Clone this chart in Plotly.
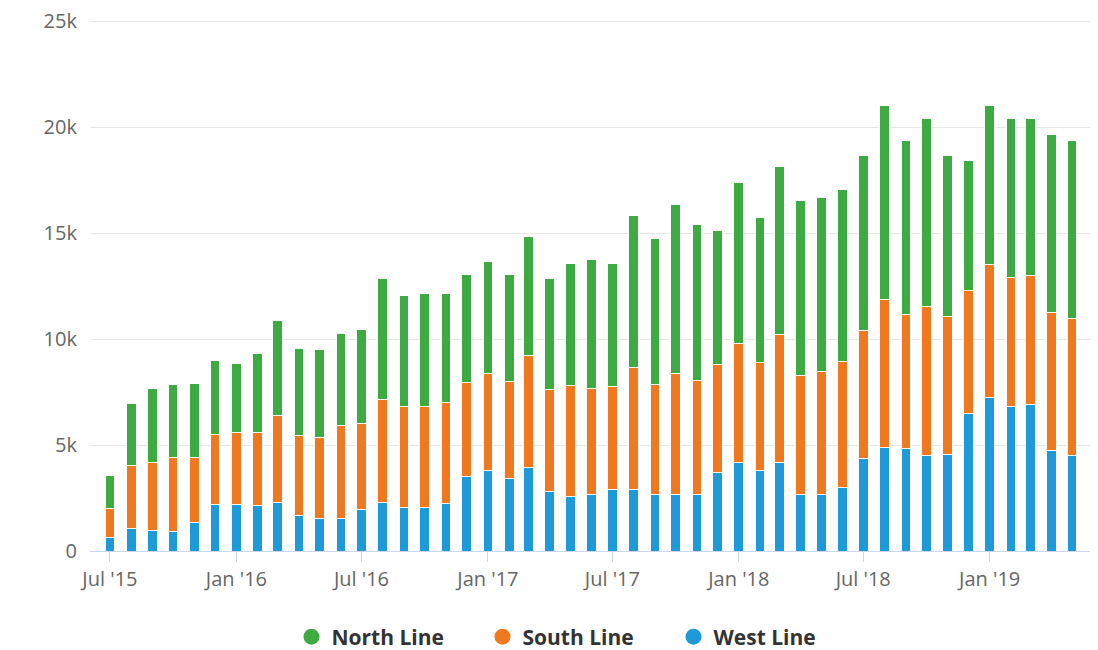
import pandas as pd
import plotly.graph_objects as go

# Monthly ridership by line, July 2015 - May 2019
months = pd.date_range("2015-07-01", "2019-05-01", freq="MS")

west_line = [630, 1080, 990, 920, 1350, 2200, 2200, 2130, 2270, 1690, 1530, 1530,
             1950, 2290, 2050, 2050, 2220, 3510, 3780, 3420, 3960, 2830, 2580, 2650,
             2920, 2920, 2650, 2650, 2650, 3690, 4200, 3780, 4200, 2650, 2650, 3010,
             4380, 4900, 4830, 4490, 4560, 6480, 7260, 6830, 6920, 4720, 4490]
south_line = [1390, 2970, 3210, 3480, 3040, 3310, 3380, 3460, 4120, 3750, 3820, 4410,
              4090, 4880, 4760, 4760, 4770, 4450, 4590, 4590, 5260, 4770, 5210, 5040,
              4860, 5750, 5220, 5740, 5400, 5130, 5580, 5130, 6020, 5640, 5840, 5910,
              6020, 6950, 6340, 7040, 6520, 5820, 6250, 6090, 6090, 6540, 6470]
north_line = [1550, 2920, 3460, 3440, 3530, 3460, 3280, 3710, 4480, 4140, 4140, 4320,
              4410, 5670, 5260, 5350, 5170, 5080, 5280, 5020, 5640, 5240, 5780, 6050,
              5780, 7150, 6900, 7940, 7350, 6300, 7600, 6810, 7940, 8230, 8190, 8120,
              8280, 9190, 8200, 8880, 7600, 6110, 7530, 7490, 7400, 8380, 8410]

x_tick_dates = ["2015-07-01", "2016-01-01", "2016-07-01", "2017-01-01",
                "2017-07-01", "2018-01-01", "2018-07-01", "2019-01-01"]
x_tick_text = ["Jul '15", "Jan '16", "Jul '16", "Jan '17",
               "Jul '17", "Jan '18", "Jul '18", "Jan '19"]
y_tick_vals = [0, 5000, 10000, 15000, 20000, 25000]
y_tick_text = ["0", "5k", "10k", "15k", "20k", "25k"]

series = [
    ("West Line", west_line, "#1f9ad9"),
    ("South Line", south_line, "#f0781f"),
    ("North Line", north_line, "#3dab42"),
]

bar_width_ms = 14 * 24 * 3600 * 1000

fig = go.Figure()
for name, values, color in series:
    fig.add_trace(go.Bar(
        x=months, y=values, name=name,
        width=[bar_width_ms] * len(months),
        marker=dict(color=color, line=dict(color="white", width=1)),
        showlegend=False,
    ))

# Round legend markers, top series first
for name, values, color in reversed(series):
    fig.add_trace(go.Scatter(
        x=[None], y=[None], mode="markers", name=name,
        marker=dict(symbol="circle", size=18, color=color),
        showlegend=True,
    ))

fig.update_layout(
    barmode="stack",
    width=1098, height=650,
    margin=dict(l=90, r=8, t=20, b=99),
    paper_bgcolor="white", plot_bgcolor="white",
    font=dict(family="Open Sans, sans-serif", size=20, color="#666666"),
    legend=dict(
        orientation="h", traceorder="normal",
        x=0.488, xanchor="center", xref="paper",
        y=13 / 650, yanchor="middle", yref="container",
        font=dict(family="Open Sans, sans-serif", size=21, color="#333333", weight="bold"),
        itemsizing="trace", entrywidth=146,
    ),
    showlegend=True,
)

fig.update_xaxes(
    type="date",
    range=["2015-06-02", "2019-05-27"],
    tickmode="array", tickvals=x_tick_dates, ticktext=x_tick_text,
    ticks="outside", ticklen=10, tickcolor="#ccd6eb", tickwidth=1,
    showline=True, linecolor="#ccd6eb", linewidth=1,
    showgrid=False, zeroline=False,
    tickfont=dict(size=20, color="#666666"),
)
fig.update_yaxes(
    range=[0, 25060],
    tickmode="array", tickvals=y_tick_vals, ticktext=y_tick_text,
    showgrid=True, gridcolor="#e6e6e6", gridwidth=1,
    zeroline=False, showline=False, ticks="",
    tickfont=dict(size=20, color="#666666"),
    ticklabelstandoff=12,
)

fig.write_html("out.html")
